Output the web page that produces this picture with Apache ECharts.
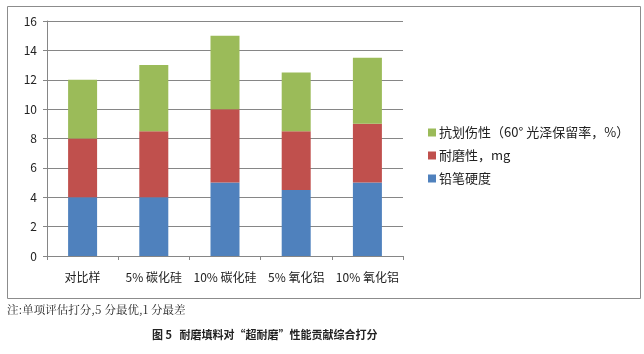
<!DOCTYPE html>
<html>
<head>
<meta charset="utf-8">
<script src="https://cdn.jsdelivr.net/npm/echarts@6/dist/echarts.min.js"></script>
<style>
  html, body { margin: 0; padding: 0; background: #fff; }
  #chart { width: 644px; height: 354px; }
</style>
</head>
<body>
<div id="chart"></div>
<script>
var categories = ["对比样", "5% 碳化硅", "10% 碳化硅", "5% 氧化铝", "10% 氧化铝"];
var pencilHardness = [4, 4, 5, 4.5, 5];
var wearResistance = [4, 4.5, 5, 4, 4];
var scratchResistance = [4, 4.5, 5, 4, 4.5];
var seriesNames = ["铅笔硬度", "耐磨性，mg", "抗划伤性（60° 光泽保留率，%）"];
var seriesColors = ["#4f81bd", "#c0504d", "#9bbb59"];
var noteText = "注:单项评估打分,5 分最优,1 分最差";
var captionText = "图 5   耐磨填料对“超耐磨”性能贡献综合打分";

var fontCn = '"Noto Sans CJK SC", "DejaVu Sans", sans-serif';
var fontSerif = '"Noto Serif CJK SC", "Noto Sans CJK SC", serif';

var chart = echarts.init(document.getElementById("chart"));

var makeSeries = function (idx, data) {
  return {
    name: seriesNames[idx],
    type: "bar",
    stack: "total",
    barWidth: 29,
    itemStyle: { color: seriesColors[idx] },
    emphasis: { disabled: true },
    data: data,
  };
};

var option = {
  animation: false,
  textStyle: { fontFamily: fontCn },
  grid: { left: 47, top: 21, width: 356, height: 235 },
  legend: {
    orient: "vertical",
    left: 423,
    top: 121,
    itemWidth: 8,
    itemHeight: 8,
    itemGap: 10,
    icon: "rect",
    data: [seriesNames[2], seriesNames[1], seriesNames[0]],
    textStyle: { fontSize: 13, color: "#222", fontFamily: fontCn, padding: [0, 0, 0, -2] },
  },
  xAxis: {
    type: "category",
    data: categories,
    axisLine: { lineStyle: { color: "#868686" } },
    axisTick: { show: true, length: 4, lineStyle: { color: "#868686" } },
    axisLabel: { interval: 0, color: "#222", fontSize: 12, margin: 15, fontFamily: fontCn },
  },
  yAxis: {
    type: "value",
    min: 0,
    max: 16,
    interval: 2,
    axisLine: { show: true, lineStyle: { color: "#868686" } },
    axisTick: { show: true, length: 4, lineStyle: { color: "#868686" } },
    axisLabel: { color: "#222", fontSize: 12, margin: 10, fontFamily: fontCn },
    splitLine: { lineStyle: { color: "#868686" } },
  },
  series: [
    makeSeries(0, pencilHardness),
    makeSeries(1, wearResistance),
    makeSeries(2, scratchResistance),
  ],
  graphic: [
    {
      type: "rect",
      shape: { x: 7.5, y: 6.5, width: 633, height: 292 },
      style: { fill: "none", stroke: "#8c8c8c", lineWidth: 1 },
      z: -1,
    },
    {
      type: "text",
      left: 7,
      top: 304,
      style: { text: noteText, fontSize: 11.5, fill: "#222", fontFamily: fontSerif },
    },
    {
      type: "text",
      left: 152,
      top: 329,
      style: { text: captionText, fontSize: 11, fontWeight: "bold", fill: "#222", fontFamily: fontCn },
    },
  ],
};

chart.setOption(option);
</script>
</body>
</html>
